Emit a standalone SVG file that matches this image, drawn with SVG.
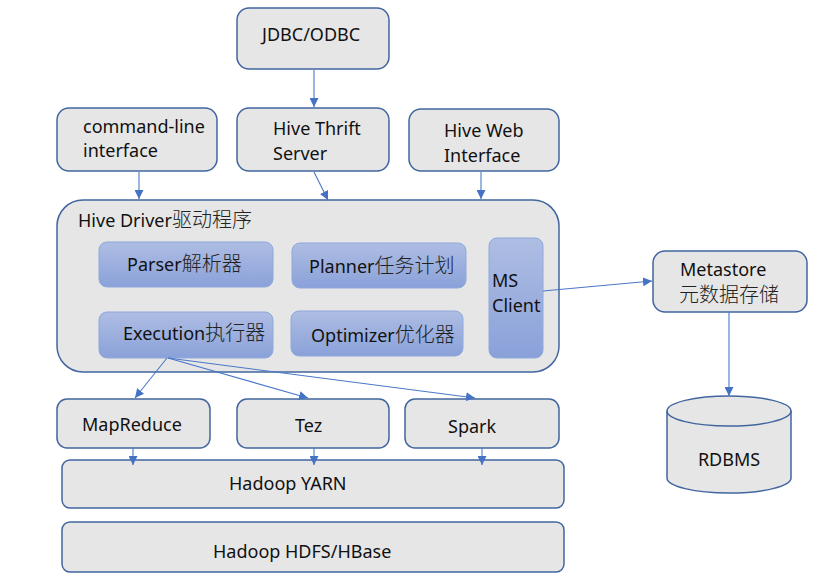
<svg xmlns="http://www.w3.org/2000/svg" width="823" height="578" viewBox="0 0 823 578">
<defs>
<linearGradient id="blueg" x1="0" y1="0" x2="0" y2="1">
<stop offset="0" stop-color="#aebde3"/>
<stop offset="1" stop-color="#8aa1d9"/>
</linearGradient>
<marker id="ah" viewBox="0 0 10 10" refX="10" refY="5" markerWidth="9" markerHeight="9" markerUnits="userSpaceOnUse" orient="auto">
<path d="M0,0 L10,5 L0,10 z" fill="#4472c4"/>
</marker>
<style>
.box{fill:#e6e6e6;stroke:#41659f;stroke-width:1.5}
.inner{fill:url(#blueg);stroke:#8fa8dc;stroke-width:1}
.t{font-family:"Noto Sans","Noto Sans CJK SC",sans-serif;font-size:18px;fill:#111}
.z{font-family:"Noto Sans CJK SC",sans-serif;font-size:20px;font-weight:300;fill:#222}
.c{stroke:#4a78c8;stroke-width:1.1;fill:none;marker-end:url(#ah)}
</style>
</defs>
<rect width="823" height="578" fill="#ffffff"/>

<g id="jdbc"><rect class="box" x="237" y="8" width="152" height="61" rx="12"/><text class="t" x="262" y="41">JDBC/ODBC</text></g>
<g id="cli"><rect class="box" x="57" y="108" width="160" height="63" rx="12"/><text class="t" x="83" y="133">command-line</text><text class="t" x="83" y="157">interface</text></g>
<g id="thrift"><rect class="box" x="237" y="108" width="152" height="63" rx="12"/><text class="t" x="273" y="135">Hive Thrift</text><text class="t" x="273" y="160">Server</text></g>
<g id="web"><rect class="box" x="409" y="109" width="150" height="62" rx="12"/><text class="t" x="444" y="137">Hive Web</text><text class="t" x="444" y="162">Interface</text></g>

<g id="driver"><rect class="box" x="57" y="200" width="502" height="172" rx="26"/><text class="t" x="78" y="227">Hive Driver<tspan class="z">驱动程序</tspan></text></g>
<g id="parser"><rect class="inner" x="99" y="242" width="174" height="45" rx="8"/><text class="t" x="127" y="271">Parser<tspan class="z">解析器</tspan></text></g>
<g id="planner"><rect class="inner" x="292" y="243" width="174" height="45" rx="8"/><text class="t" x="309" y="273">Planner<tspan class="z">任务计划</tspan></text></g>
<g id="execution"><rect class="inner" x="99" y="312" width="174" height="46" rx="8"/><text class="t" x="123" y="340">Execution<tspan class="z">执行器</tspan></text></g>
<g id="optimizer"><rect class="inner" x="291" y="311" width="172" height="45" rx="8"/><text class="t" x="311" y="342">Optimizer<tspan class="z">优化器</tspan></text></g>
<g id="msclient"><rect class="inner" x="489" y="238" width="54" height="120" rx="8"/><text class="t" x="492" y="287">MS</text><text class="t" x="492" y="312">Client</text></g>

<g id="metastore"><rect class="box" x="653" y="251" width="154" height="61" rx="12"/><text class="t" x="680" y="276">Metastore</text><text class="z" x="679" y="302">元数据存储</text></g>
<g id="rdbms"><path class="box" d="M667,411 A62,15 0 0 1 791,411 L791,478 A62,15 0 0 1 667,478 Z"/><path d="M667,411 A62,15 0 0 0 791,411" fill="none" stroke="#41659f" stroke-width="1.5"/><text class="t" x="729" y="466" text-anchor="middle">RDBMS</text></g>

<g id="mapreduce"><rect class="box" x="57" y="399" width="153" height="49" rx="10"/><text class="t" x="82" y="431">MapReduce</text></g>
<g id="tez"><rect class="box" x="237" y="399" width="152" height="49" rx="10"/><text class="t" x="295" y="432">Tez</text></g>
<g id="spark"><rect class="box" x="405" y="399" width="154" height="49" rx="10"/><text class="t" x="448" y="433">Spark</text></g>
<g id="yarn"><rect class="box" x="62" y="460" width="502" height="48" rx="8"/><text class="t" x="229" y="490">Hadoop YARN</text></g>
<g id="hdfs"><rect class="box" x="62" y="522" width="502" height="50" rx="8"/><text class="t" x="213" y="558">Hadoop HDFS/HBase</text></g>

<g id="connectors">
<line class="c" x1="314" y1="70" x2="314" y2="107"/>
<line class="c" x1="139" y1="172" x2="139" y2="199"/>
<line class="c" x1="314" y1="172" x2="328" y2="200"/>
<line class="c" x1="481" y1="172" x2="481" y2="199"/>
<line class="c" x1="543" y1="291" x2="652" y2="281"/>
<line class="c" x1="729" y1="312" x2="729" y2="396"/>
<line class="c" x1="167" y1="358" x2="135" y2="398"/>
<line class="c" x1="168" y1="358" x2="308" y2="398"/>
<line class="c" x1="168" y1="358" x2="475" y2="398"/>
<line class="c" x1="133" y1="448" x2="133" y2="465"/>
<line class="c" x1="314" y1="448" x2="314" y2="465"/>
<line class="c" x1="482" y1="448" x2="482" y2="465"/>
</g>
</svg>
